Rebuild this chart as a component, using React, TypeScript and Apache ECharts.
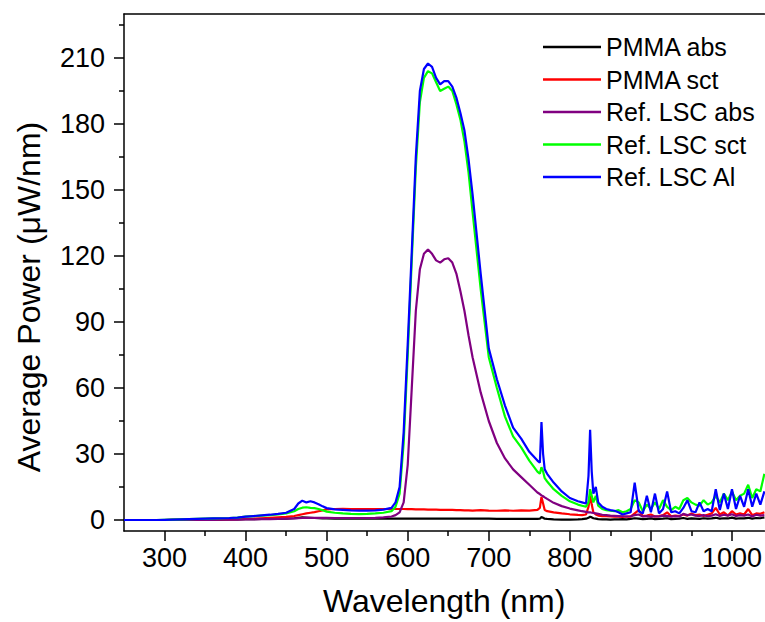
import React, { useEffect, useRef } from "react";
import * as echarts from "echarts";

const wavelength = [
  250, 260, 270, 280, 290, 300, 310, 320, 330, 340, 350, 360, 370, 380, 390, 400, 410, 420, 430, 440, 450,
  460, 465, 470, 475, 480, 485, 490, 495, 500,
  510, 520, 530, 540, 550, 560, 570, 580,
  585, 590, 595, 600, 605, 610, 615, 620, 625, 630, 635, 640, 645, 650, 655, 660, 665, 670, 675, 680, 690, 700, 710, 720, 730, 740, 750, 760,
  763, 765, 767, 769, 772, 780, 790, 800, 810, 815, 820, 823, 825, 827, 829, 832, 835, 840, 845, 850, 855,
  860, 865, 870, 875, 880, 885, 890, 895, 900, 905, 910, 915, 920, 925, 930, 935, 940, 945, 950, 955, 960, 965, 970, 975, 980, 985, 990, 995, 1000, 1005, 1010, 1015, 1020, 1025, 1030, 1035, 1040,
];

const pmmaAbs = [
  0, 0, 0, 0, 0, 0, 0.1, 0.1, 0.1, 0.2, 0.2, 0.2, 0.2, 0.3, 0.3, 0.4, 0.4, 0.5, 0.5, 0.5, 0.6,
  0.8, 1.0, 1.2, 1.1, 1.0, 0.9, 0.8, 0.7, 0.7,
  0.6, 0.6, 0.6, 0.6, 0.6, 0.6, 0.6, 0.6,
  0.6, 0.6, 0.6, 0.6, 0.6, 0.6, 0.6, 0.6, 0.6, 0.6, 0.6, 0.6, 0.6, 0.6, 0.6, 0.6, 0.6, 0.6, 0.6, 0.6, 0.6, 0.6, 0.5, 0.5, 0.5, 0.5, 0.5, 0.5,
  0.6, 1.3, 1.0, 0.6, 0.5, 0.3, 0.2, 0.2, 0.3, 0.4, 0.6, 1.0, 1.5, 1.2, 0.8, 0.6, 0.4, 0.3, 0.3, 0.2, 0.3,
  0.3, 0.4, 0.3, 0.5, 0.8, 0.6, 0.4, 0.5, 0.7, 0.4, 0.5, 0.6, 0.8, 0.4, 0.5, 0.6, 0.9, 0.5, 0.7, 0.6, 0.5, 0.8, 0.6, 0.7, 1.0, 0.6, 0.8, 0.7, 1.1, 0.6, 0.8, 0.7, 1.0, 0.6, 0.9, 0.8, 1.2,
];

const pmmaSct = [
  0, 0, 0, 0, 0, 0, 0.1, 0.1, 0.1, 0.2, 0.2, 0.2, 0.3, 0.3, 0.4, 0.5, 0.6, 0.8, 1.0, 1.2, 1.4,
  1.8, 2.2, 2.6, 3.0, 3.3, 3.6, 4.0, 4.4, 4.8,
  5.0, 5.1, 5.0, 5.0, 4.9, 5.0, 5.0, 5.0,
  5.0, 5.0, 5.0, 4.9, 4.9, 4.8, 4.8, 4.8, 4.7, 4.7, 4.7, 4.6, 4.6, 4.6, 4.6, 4.5, 4.5, 4.4, 4.4, 4.3, 4.5, 4.3, 4.2, 4.4, 4.2, 4.4, 4.3, 4.6,
  5.5, 10.5, 7.5, 4.5, 4.0, 3.5, 3.0, 2.6, 2.3, 2.2, 2.5, 6, 11, 7, 3.5, 2.5, 2.0, 1.8, 1.7, 1.6, 1.5,
  1.5, 1.4, 1.6, 1.5, 3.0, 4.5, 1.8, 2.0, 2.5, 1.6, 1.8, 2.2, 3.5, 1.7, 2.0, 1.8, 2.5, 2.0, 3.0, 2.2, 2.5, 1.8, 2.4, 3.0, 5.5, 2.5, 3.5, 2.0, 4.0, 2.5, 3.0, 2.5, 5.0, 2.2, 3.0, 2.8, 3.5,
];

const refLscAbs = [
  0, 0, 0, 0, 0, 0, 0, 0, 0.1, 0.1, 0.1, 0.1, 0.2, 0.2, 0.2, 0.3, 0.3, 0.4, 0.4, 0.5, 0.6,
  0.7, 0.8, 0.9, 1.0, 1.0, 1.0, 1.0, 1.0, 1.0,
  0.9, 0.9, 0.9, 0.9, 0.9, 1.0, 1.2, 1.6,
  2.2, 3.5, 8, 25, 60, 95, 114, 121, 123, 121, 118, 117, 118.5, 119, 117, 112, 104, 95, 84, 74, 58, 45, 35, 28, 23, 19.5, 16, 12.5,
  11.8, 11.2, 10.8, 10.3, 9.6, 7.8, 6.3, 5.2, 4.4, 4.0, 3.7, 3.5, 3.5, 3.3, 3.2, 3.0, 2.8, 2.4, 2.2, 2.0, 1.9,
  1.8, 1.7, 1.6, 1.7, 2.2, 2.5, 1.6, 1.8, 1.5, 1.7, 1.6, 2.0, 1.9, 1.5, 1.8, 1.6, 2.8, 2.2, 2.5, 2.0, 1.8, 2.2, 1.7, 2.0, 2.6, 1.8, 2.4, 2.0, 2.6, 1.8, 2.2, 2.0, 2.5, 1.6, 2.4, 2.0, 2.2,
];

const refLscSct = [
  0, 0, 0, 0, 0, 0.1, 0.2, 0.3, 0.4, 0.5, 0.6, 0.7, 0.8, 0.9, 1.1, 1.5, 1.8, 2.0, 2.2, 2.5, 3.0,
  4.0, 5.0, 5.6, 5.8, 5.5, 5.4, 5.0, 4.4, 3.8,
  3.3, 3.0, 2.8, 2.7, 2.8, 3.0, 3.3, 4.0,
  6, 12, 35, 75, 118, 160, 190, 201, 204, 203, 199, 195, 196, 197, 195, 189, 182, 172, 158, 140, 105, 74, 60, 47, 38, 33, 27, 22,
  21, 24, 22, 19, 17.5, 14, 11, 8.5, 7, 6.5, 6, 8, 14, 11, 8, 11, 6.5, 5, 4.5, 4.2, 4.0,
  4.5, 3.5, 4.0, 5.0, 9, 8, 4.0, 7, 5, 8, 5, 9, 6, 4.5, 6, 5, 9, 10, 8, 7, 6.5, 9, 7, 8, 11, 8, 12, 9, 13, 9, 11, 12, 16, 10, 14, 13, 21,
];

const refLscAl = [
  0, 0, 0, 0, 0, 0.1, 0.2, 0.3, 0.4, 0.5, 0.6, 0.7, 0.8, 0.9, 1.1, 1.5, 1.8, 2.1, 2.4, 2.8, 3.3,
  5.0, 7.5, 8.8, 8.0, 8.5, 8.0, 7.2, 6.2, 5.4,
  4.8, 4.6, 4.4, 4.3, 4.3, 4.4, 4.7, 5.5,
  8, 15, 40, 80, 122, 165, 195, 205, 207.5, 206, 201, 198, 199.5, 199.5, 197, 192, 185, 177, 164, 148, 112, 78, 64, 52, 42, 37, 31, 27,
  26, 44.5, 30, 23, 21, 17, 13, 10, 8.5, 8, 7.5, 20, 41, 22, 12, 15, 8, 6, 5, 4.5, 4.2,
  3.5, 2.5, 3.0, 3.5, 17, 4.0, 3.0, 11, 3.5, 12, 3.0, 5, 13, 3.5, 4.0, 3.0, 5.5, 9, 4.0, 3.5, 8, 4.0, 5, 4.0, 14, 4.5, 12, 5, 14, 5, 11, 6, 14, 6, 12, 7, 13,
];

const seriesNames = ["PMMA abs", "PMMA sct", "Ref. LSC abs", "Ref. LSC sct", "Ref. LSC Al"];
const seriesValues = [pmmaAbs, pmmaSct, refLscAbs, refLscSct, refLscAl];
const seriesColors = ["#000000", "#ff0000", "#800080", "#00ff00", "#0000ff"];

const xMajorTicks = [300, 400, 500, 600, 700, 800, 900, 1000];
const xMinorTicks = [350, 450, 550, 650, 750, 850, 950];
const yMajorTicks = [0, 30, 60, 90, 120, 150, 180, 210];
const yMinorTicks = [15, 45, 75, 105, 135, 165, 195, 225];

const FONT = "'Liberation Sans', Arial, sans-serif";

export default function App() {
  const ref = useRef<HTMLDivElement>(null);

  useEffect(() => {
    if (!ref.current) return;
    const chart = echarts.init(ref.current, undefined, { renderer: "svg" });
    const axisLineStyle = { color: "#000", width: 1.5 };
    const xBase = { type: "value", min: 250, max: 1040, splitLine: { show: false } };
    const yBase = { type: "value", min: -5, max: 230, splitLine: { show: false } };

    chart.setOption({
      animation: false,
      backgroundColor: "#ffffff",
      grid: { left: 124, top: 14, right: 0, bottom: 86, containLabel: false },
      legend: {
        orient: "vertical",
        left: 538,
        top: 29,
        icon: "rect",
        itemWidth: 58,
        itemHeight: 2.5,
        itemGap: 6.5,
        data: seriesNames,
        textStyle: { fontSize: 25, lineHeight: 26, color: "#000", fontFamily: FONT },
      },
      xAxis: [
        {
          ...xBase,
          position: "bottom",
          axisLine: { onZero: false, lineStyle: axisLineStyle },
          axisTick: { customValues: xMajorTicks, length: 10, lineStyle: axisLineStyle },
          axisLabel: {
            customValues: xMajorTicks,
            fontSize: 27,
            margin: 13,
            color: "#000",
            fontFamily: FONT,
            formatter: (v: number) => String(v),
          },
          name: "Wavelength (nm)",
          nameLocation: "middle",
          nameGap: 54,
          nameTextStyle: { fontSize: 32, color: "#000", fontFamily: FONT },
        },
        {
          ...xBase,
          position: "bottom",
          axisLine: { show: false, onZero: false },
          axisTick: { customValues: xMinorTicks, length: 5, lineStyle: axisLineStyle },
          axisLabel: { show: false },
        },
        {
          ...xBase,
          position: "top",
          axisLine: { onZero: false, lineStyle: axisLineStyle },
          axisTick: { show: false },
          axisLabel: { show: false },
        },
      ],
      yAxis: [
        {
          ...yBase,
          position: "left",
          axisLine: { show: true, onZero: false, lineStyle: axisLineStyle },
          axisTick: { show: true, customValues: yMajorTicks, length: 10, lineStyle: axisLineStyle },
          axisLabel: {
            customValues: yMajorTicks,
            fontSize: 27,
            margin: 19,
            color: "#000",
            fontFamily: FONT,
            formatter: (v: number) => String(v),
          },
        },
        {
          ...yBase,
          position: "left",
          axisLine: { show: false, onZero: false },
          axisTick: { show: true, customValues: yMinorTicks, length: 5, lineStyle: axisLineStyle },
          axisLabel: { show: false },
        },
      ],
      graphic: [
        {
          type: "text",
          x: 29,
          y: 297,
          rotation: Math.PI / 2,
          style: {
            text: "Average Power (\u03bcW/nm)",
            font: `32px ${FONT}`,
            fill: "#000",
            align: "center",
            verticalAlign: "middle",
          },
        },
      ],
      series: seriesNames.map((name, i) => ({
        name,
        type: "line",
        xAxisIndex: 0,
        yAxisIndex: 0,
        symbol: "none",
        showSymbol: false,
        color: seriesColors[i],
        lineStyle: { color: seriesColors[i], width: 2.2 },
        data: wavelength.map((w, j) => [w, seriesValues[i][j]]),
      })),
    });

    return () => chart.dispose();
  }, []);

  return <div ref={ref} style={{ position: "fixed", left: 0, top: 0, width: 765, height: 622 }} />;
}
